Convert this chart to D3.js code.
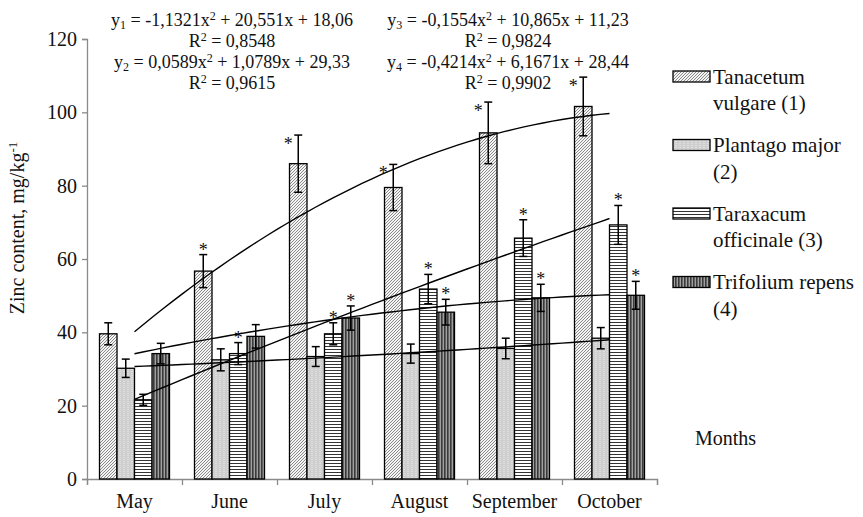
<!DOCTYPE html>
<html>
<head>
<meta charset="utf-8">
<script src="https://cdn.jsdelivr.net/npm/d3@7"></script>
</head>
<body style="margin:0">
<script>
// donnees
const months = ["May", "June", "July", "August", "September", "October"]
const seriesKeys = ["tanacetum", "plantago", "taraxacum", "trifolium"]

const tanacetum = [39.6, 56.7, 86.0, 79.5, 94.4, 101.6]
const plantago = [30.2, 32.5, 33.4, 34.2, 35.6, 38.4]
const taraxacum = [21.6, 34.2, 39.6, 51.8, 65.7, 69.3]
const trifolium = [34.2, 38.9, 43.9, 45.5, 49.4, 50.1]

const tanacetumErr = [3.0, 4.5, 7.8, 6.3, 8.4, 8.0]
const plantagoErr = [2.5, 3.0, 2.7, 2.6, 2.8, 2.9]
const taraxacumErr = [1.5, 3.0, 3.0, 4.0, 5.0, 5.3]
const trifoliumErr = [2.8, 3.2, 3.3, 3.5, 3.7, 3.8]

// asterisques (difference significative)
const tanacetumSig = [0, 1, 1, 1, 1, 1]
const plantagoSig = [0, 0, 0, 0, 0, 0]
const taraxacumSig = [0, 1, 1, 1, 1, 1]
const trifoliumSig = [0, 0, 1, 1, 1, 1]

const legendLines = [
    ["Tanacetum", "vulgare (1)"],
    ["Plantago major", "(2)"],
    ["Taraxacum", "officinale (3)"],
    ["Trifolium repens", "(4)"]
]

const yTicks = [0, 20, 40, 60, 80, 100, 120]

// equations: [texte, type]
const equationsLeft = [
    [["y", ""], ["1", "sub"], [" = -1,1321x", ""], ["2", "sup"], [" + 20,551x + 18,06", ""]],
    [["R", ""], ["2", "sup"], [" = 0,8548", ""]],
    [["y", ""], ["2", "sub"], [" = 0,0589x", ""], ["2", "sup"], [" + 1,0789x + 29,33", ""]],
    [["R", ""], ["2", "sup"], [" = 0,9615", ""]]
]
const equationsRight = [
    [["y", ""], ["3", "sub"], [" = -0,1554x", ""], ["2", "sup"], [" + 10,865x + 11,23", ""]],
    [["R", ""], ["2", "sup"], [" = 0,9824", ""]],
    [["y", ""], ["4", "sub"], [" = -0,4214x", ""], ["2", "sup"], [" + 6,1671x + 28,44", ""]],
    [["R", ""], ["2", "sup"], [" = 0,9902", ""]]
]

const values = [tanacetum, plantago, taraxacum, trifolium]
const errors = [tanacetumErr, plantagoErr, taraxacumErr, trifoliumErr]
const sig = [tanacetumSig, plantagoSig, taraxacumSig, trifoliumSig]

const W = 863, H = 517
const plot = { left: 87, right: 657, top: 39, bottom: 479 }

const svg = d3.select("body").append("svg")
    .attr("width", W)
    .attr("height", H)

// police serif sur chaque texte
function serif(sel, size) {
    return sel.style("font-family", "'Liberation Serif'").attr("font-size", size)
}

// motifs des barres
const defs = svg.append("defs")

const p1 = defs.append("pattern").attr("id", "pat0")
    .attr("patternUnits", "userSpaceOnUse").attr("width", 3).attr("height", 3)
p1.append("rect").attr("width", 3).attr("height", 3).attr("fill", "#f4f4f4")
p1.append("path").attr("d", "M-1,1 l2,-2 M0,3 l3,-3 M2,4 l2,-2")
    .attr("stroke", "#6e6e6e").attr("stroke-width", 0.8)

const p2 = defs.append("pattern").attr("id", "pat1")
    .attr("patternUnits", "userSpaceOnUse").attr("width", 4).attr("height", 4)
p2.append("rect").attr("width", 4).attr("height", 4).attr("fill", "#f2f2f2")
p2.append("path").attr("d", "M0,1.5 L1,0.5 L2,1.5 L3,0.5 L4,1.5 M0,3.5 L1,2.5 L2,3.5 L3,2.5 L4,3.5")
    .attr("stroke", "#8a8a8a").attr("stroke-width", 0.8).attr("fill", "none")

const p3 = defs.append("pattern").attr("id", "pat2")
    .attr("patternUnits", "userSpaceOnUse").attr("width", 4).attr("height", 3)
p3.append("rect").attr("width", 4).attr("height", 3).attr("fill", "#fff")
p3.append("rect").attr("y", 1).attr("width", 4).attr("height", 1).attr("fill", "#333")

const p4 = defs.append("pattern").attr("id", "pat3")
    .attr("patternUnits", "userSpaceOnUse").attr("width", 3).attr("height", 4)
p4.append("rect").attr("width", 3).attr("height", 4).attr("fill", "#a0a0a0")
p4.append("rect").attr("width", 1.6).attr("height", 4).attr("fill", "#3a3a3a")

// echelles
const x = d3.scaleBand()
    .domain(months)
    .range([plot.left, plot.right])

const xSub = d3.scaleBand()
    .domain(seriesKeys)
    .range([12.5, x.bandwidth() - 12.5])

const xLin = d3.scaleLinear()
    .domain([0, months.length])
    .range([plot.left, plot.right])

const y = d3.scaleLinear()
    .domain([0, 120])
    .range([plot.bottom, plot.top])

// axe y
const gy = svg.append("g")
    .attr("transform", "translate(" + plot.left + ",0)")
    .call(d3.axisLeft(y).tickValues(yTicks).tickSize(5).tickPadding(5))
gy.attr("font-family", null).attr("font-size", null)
gy.selectAll("path, line").attr("stroke", "#8a8a8a").attr("stroke-width", 1.3)
serif(gy.selectAll("text"), 20).attr("fill", "#111")

// axe x
const gx = svg.append("g")
    .attr("transform", "translate(0," + plot.bottom + ")")
    .call(d3.axisBottom(xLin).tickValues(d3.range(months.length + 1)).tickSize(6).tickSizeOuter(6).tickFormat(""))
gx.selectAll("path, line").attr("stroke", "#8a8a8a").attr("stroke-width", 1.3)

months.forEach(m => {
    serif(svg.append("text"), 20)
        .attr("x", x(m) + x.bandwidth() / 2)
        .attr("y", 508)
        .attr("text-anchor", "middle")
        .attr("fill", "#111")
        .text(m)
})

// barres
const bars = []
seriesKeys.forEach((key, s) => {
    months.forEach((m, i) => {
        bars.push({ key: key, s: s, month: m, i: i, v: values[s][i], e: errors[s][i], sig: sig[s][i] })
    })
})

svg.append("g").selectAll("rect")
    .data(bars)
    .join("rect")
    .attr("x", d => x(d.month) + xSub(d.key))
    .attr("y", d => y(d.v))
    .attr("width", xSub.bandwidth())
    .attr("height", d => y(0) - y(d.v))
    .attr("fill", d => "url(#pat" + d.s + ")")
    .attr("stroke", "#000")
    .attr("stroke-width", 1.3)

// barres d'erreur
const eb = svg.append("g").attr("stroke", "#000").attr("stroke-width", 1.5)
bars.forEach(d => {
    const cx = x(d.month) + xSub(d.key) + xSub.bandwidth() / 2
    eb.append("line").attr("x1", cx).attr("x2", cx).attr("y1", y(d.v + d.e)).attr("y2", y(d.v - d.e))
    eb.append("line").attr("x1", cx - 4).attr("x2", cx + 4).attr("y1", y(d.v + d.e)).attr("y2", y(d.v + d.e))
    eb.append("line").attr("x1", cx - 4).attr("x2", cx + 4).attr("y1", y(d.v - d.e)).attr("y2", y(d.v - d.e))
})

// asterisques
bars.filter(d => d.sig).forEach(d => {
    const cx = x(d.month) + xSub(d.key) + xSub.bandwidth() / 2
    const side = d.s == 0 && d.e > 5
    serif(svg.append("text"), 18)
        .attr("x", side ? cx - 10 : cx)
        .attr("y", side ? y(d.v + d.e) + 15 : y(d.v + d.e) + 1)
        .attr("text-anchor", "middle")
        .attr("fill", "#111")
        .text("*")
})

// courbes de tendance (polynome d'ordre 2, moindres carres)
function polyFit(ys) {
    const xs = ys.map((v, i) => i + 1)
    const n = xs.length
    const mx = d3.mean(xs)
    const t = xs.map(v => v - mx)
    const st2 = d3.sum(t, v => v * v)
    const u = t.map(v => v * v - st2 / n)
    const my = d3.mean(ys)
    const b = d3.sum(t.map((v, i) => v * ys[i])) / st2
    const c = d3.sum(u.map((v, i) => v * ys[i])) / d3.sum(u, v => v * v)
    return xx => my + b * (xx - mx) + c * ((xx - mx) * (xx - mx) - st2 / n)
}

const xPos = xx => x(months[0]) + x.bandwidth() / 2 + (xx - 1) * x.bandwidth()
const line = d3.line().x(d => xPos(d[0])).y(d => y(d[1]))

values.forEach(ys => {
    const f = polyFit(ys)
    const pts = d3.range(1, 6.001, 0.1).map(xx => [xx, f(xx)])
    svg.append("path")
        .attr("d", line(pts))
        .attr("fill", "none")
        .attr("stroke", "#000")
        .attr("stroke-width", 1.4)
})

// equations
function drawEquations(lines, cx, y0) {
    lines.forEach((segs, k) => {
        const t = serif(svg.append("text"), 18)
            .attr("x", cx)
            .attr("y", y0 + k * 21)
            .attr("text-anchor", "middle")
            .attr("fill", "#111")
        segs.forEach(sg => {
            const ts = t.append("tspan").text(sg[0])
            if (sg[1] == "sub") ts.attr("font-size", 12).attr("baseline-shift", "-3")
            if (sg[1] == "sup") ts.attr("font-size", 12).attr("baseline-shift", "6")
        })
    })
}
drawEquations(equationsLeft, 232, 26)
drawEquations(equationsRight, 508, 26)

// legende
legendLines.forEach((lines, i) => {
    const top = 71 + i * 68.5
    svg.append("rect")
        .attr("x", 673)
        .attr("y", top)
        .attr("width", 37)
        .attr("height", 11)
        .attr("fill", "url(#pat" + i + ")")
        .attr("stroke", "#000")
        .attr("stroke-width", 1.3)
    lines.forEach((l, k) => {
        serif(svg.append("text"), 21)
            .attr("x", 713)
            .attr("y", top + 12.5 + k * 26.5)
            .attr("fill", "#111")
            .text(l)
    })
})

// titres des axes
const yl = serif(svg.append("text"), 20)
    .attr("transform", "translate(24,228) rotate(-90)")
    .attr("text-anchor", "middle")
    .attr("fill", "#111")
yl.append("tspan").text("Zinc content, mg/kg")
yl.append("tspan").text("-1").attr("font-size", 13).attr("baseline-shift", "7")

serif(svg.append("text"), 20)
    .attr("x", 695)
    .attr("y", 445)
    .attr("fill", "#111")
    .text("Months")
</script>
</body>
</html>
